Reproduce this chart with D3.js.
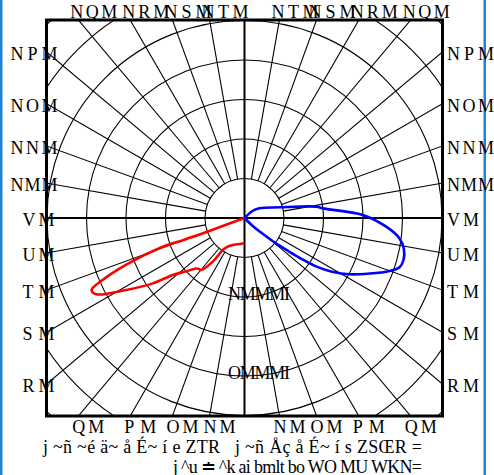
<!DOCTYPE html>
<html>
<head>
<meta charset="utf-8">
<script src="https://cdn.jsdelivr.net/npm/d3@7"></script>
<style>
  body { margin: 0; background: #fff; }
  svg text { font-family: "Liberation Serif", "Times New Roman", serif; font-size: 18px; fill: #000; }
</style>
</head>
<body>
<div id="chart"></div>
<script>
// angles in degrees, 0 = straight down, 180 = straight up, mirrored on both sides
var angleTicks = [10, 20, 30, 40, 50, 60, 70, 80, 90, 100, 110, 120, 130, 140, 150, 160, 170];
var angleLabels = ["NM", "OM", "PM", "QM", "RM", "SM", "TM", "UM", "VM",
                   "NMM", "NNM", "NOM", "NPM", "NQM", "NRM", "NSM", "NTM"];

var rings = [500, 1000, 1500, 2000, 2500, 3000, 3500];
var ringLabelValues = [1000, 2000];
var ringLabelTexts = ["NMMMI", "OMMMI"];

// red trace (left half)
var redAngle = [70, 69.8, 70.2, 70.5, 68.5, 66.4, 64.8, 62.8, 58.7, 54.5, 51.5, 47.5, 44.5, 42.5, 39.8, 36, 34.1, 30.2, 23.4, 14.3, 1.6];
var redRange = [0, 510, 810, 1137, 1608, 1962, 2139, 2111, 1753, 1425, 1159, 1000, 900, 870, 857, 683, 490, 420, 372, 344, 320];

// blue trace (right half)
var blueAngle = [150, 131, 123, 107, 99, 97, 91.5, 86.5, 82.5, 79.2, 75.2, 72.4, 69.2, 66.7, 61.8, 58.5, 56, 54.5, 53, 51, 49, 46, 45];
var blueRange = [0, 140, 226, 463, 919, 999, 1498, 1797, 1979, 2053, 2082, 2059, 1918, 1768, 1508, 1300, 1100, 900, 700, 500, 300, 150, 0];

var captionTexts = ["j ~ñ ~é ä~ å É~ í e ZTR", "j ~ñ Åç å É~ í s ZSŒR =", "j ^u ≐ ^k ai bmlt bo WO MU WKN="];

var W = 494, H = 475;
var cx = 244.5, cy = 218, half = 198;
var boxL = cx - half, boxR = cx + half, boxT = cy - half, boxB = cy + half;

var r = d3.scaleLinear().domain([0, 2500]).range([0, 197.5]);
var rad = function(d) { return d * Math.PI / 180; };

var svg = d3.select("#chart").append("svg")
    .attr("width", W)
    .attr("height", H);

// frame lines at the page edges
svg.append("rect").attr("x", 0).attr("y", 0).attr("width", 2.5).attr("height", H).attr("fill", "#1f82d2");
svg.append("rect").attr("x", 483.5).attr("y", 0).attr("width", 2.5).attr("height", H).attr("fill", "#1f82d2");

svg.append("clipPath").attr("id", "box")
  .append("rect")
    .attr("x", boxL).attr("y", boxT)
    .attr("width", 2 * half).attr("height", 2 * half);

var g = svg.append("g")
    .attr("clip-path", "url(#box)")
  .append("g")
    .attr("transform", "translate(" + cx + "," + cy + ")");

// range rings
g.selectAll("circle.ring")
  .data(rings)
  .enter().append("circle")
    .attr("class", "ring")
    .attr("r", function(d) { return r(d); })
    .attr("fill", "none")
    .attr("stroke", "#000")
    .attr("stroke-width", 1.1);

// spokes, both sides, from the first ring outward
var spokes = [];
angleTicks.forEach(function(a) { spokes.push({a: a, side: -1}); spokes.push({a: a, side: 1}); });

g.selectAll("line.spoke")
  .data(spokes)
  .enter().append("line")
    .attr("class", "spoke")
    .attr("x1", function(d) { return d.side * r(rings[0]) * Math.sin(rad(d.a)); })
    .attr("y1", function(d) { return r(rings[0]) * Math.cos(rad(d.a)); })
    .attr("x2", function(d) { return d.side * r(4000) * Math.sin(rad(d.a)); })
    .attr("y2", function(d) { return r(4000) * Math.cos(rad(d.a)); })
    .attr("stroke", "#000")
    .attr("stroke-width", 1.1);

// main axes through the centre
g.append("line").attr("x1", -half).attr("x2", half).attr("y1", 0).attr("y2", 0)
    .attr("stroke", "#000").attr("stroke-width", 2);
g.append("line").attr("x1", 0).attr("x2", 0).attr("y1", -half).attr("y2", half)
    .attr("stroke", "#000").attr("stroke-width", 2);

// traces
function trace(angles, ranges, side, color) {
  var pts = angles.map(function(a, i) { return [a, ranges[i]]; });
  var line = d3.lineRadial()
      .angle(function(d) { return side > 0 ? Math.PI - rad(d[0]) : Math.PI + rad(d[0]); })
      .radius(function(d) { return r(d[1]); })
      .curve(d3.curveCatmullRom.alpha(0.5));
  g.append("path")
      .attr("d", line(pts))
      .attr("fill", "none")
      .attr("stroke", color)
      .attr("stroke-width", 2.6)
      .attr("stroke-linejoin", "round");
}
trace(redAngle, redRange, -1, "#ff0000");
trace(blueAngle, blueRange, 1, "#0000ff");

// frame box
svg.append("rect")
    .attr("x", boxL).attr("y", boxT)
    .attr("width", 2 * half).attr("height", 2 * half)
    .attr("fill", "none")
    .attr("stroke", "#000")
    .attr("stroke-width", 3);

// angle labels where each spoke meets the box
var labels = [];
spokes.forEach(function(s) {
  var i = angleTicks.indexOf(s.a);
  var dx = s.side * Math.sin(rad(s.a)), dy = Math.cos(rad(s.a));
  var t = half / Math.max(Math.abs(dx), Math.abs(dy));
  var hx = cx + dx * t, hy = cy + dy * t;
  var txt = angleLabels[i], n = txt.length, w = 15 * n + 2, x, y;
  if (Math.abs(dy) > Math.abs(dx) + 1e-6) {
    if (dy < 0) { x = hx - 8; y = boxT - 2.5; }
    else { x = hx - 6; y = boxB + 17; }
  } else {
    y = hy + 8;
    x = s.side < 0 ? boxL - 12 * n : boxR + 4.5;
  }
  labels.push({t: txt, x: x, y: y, w: w});
});

svg.selectAll("text.angle")
  .data(labels)
  .enter().append("text")
    .attr("class", "angle")
    .attr("x", function(d) { return d.x; })
    .attr("y", function(d) { return d.y; })
    .attr("textLength", function(d) { return d.w; })
    .attr("lengthAdjust", "spacing")
    .text(function(d) { return d.t; });

// range labels down the vertical axis
svg.selectAll("text.range")
  .data(ringLabelValues)
  .enter().append("text")
    .attr("class", "range")
    .attr("x", cx - 16.5)
    .attr("y", function(d) { return cy + r(d) + 3; })
    .attr("textLength", 62)
    .attr("lengthAdjust", "spacing")
    .text(function(d, i) { return ringLabelTexts[i]; });

// caption lines under the chart
var captionPos = [{x: 43, y: 453, w: 177}, {x: 235, y: 453, w: 187}, {x: 173, y: 473, w: 249}];
svg.selectAll("text.caption")
  .data(captionTexts)
  .enter().append("text")
    .attr("class", "caption")
    .attr("x", function(d, i) { return captionPos[i].x; })
    .attr("y", function(d, i) { return captionPos[i].y; })
    .attr("textLength", function(d, i) { return captionPos[i].w; })
    .attr("lengthAdjust", "spacing")
    .text(function(d) { return d; });
</script>
</body>
</html>
